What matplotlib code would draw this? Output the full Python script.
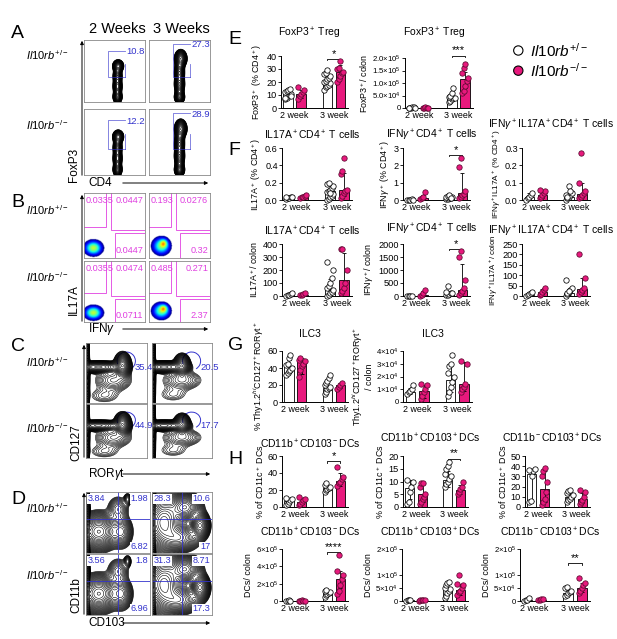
import numpy as np
import matplotlib
matplotlib.use("Agg")
import matplotlib.pyplot as plt
from matplotlib.patches import Rectangle, Arc, FancyArrowPatch

plt.rcParams['font.family'] = ['Liberation Sans', 'DejaVu Sans']
plt.rcParams['mathtext.fontset'] = 'custom'
plt.rcParams['mathtext.rm'] = 'Liberation Sans'
plt.rcParams['mathtext.it'] = 'Liberation Sans:italic'
plt.rcParams['mathtext.bf'] = 'Liberation Sans:bold'

W, H = 617, 639
PINK = '#E8197D'
BLUE = '#3333CC'
MAG = '#E040E0'

fig = plt.figure(figsize=(W / 100, H / 100), dpi=100)


def px(x0, y0, x1, y1):
    return [x0 / W, 1 - y1 / H, (x1 - x0) / W, (y1 - y0) / H]


def ftext(x, y, s, **kw):
    fig.text(x / W, 1 - y / H, s, **kw)


# ---------------- bar chart data ----------------
groups = ['2 week', '3 week']

e1_pts = [[7, 8, 9, 10, 11, 12, 13, 14, 15, 9, 8], [7, 9, 11, 12, 14, 16],
          [14, 16, 17, 18, 19, 20, 21, 22, 23, 25, 26, 27, 29], [20, 22, 25, 27, 28, 30, 31, 36]]
e1_bar = [10.5, 11, 20, 28]
e1_err = [[8, 8, 16, 23], [13, 14, 24, 33]]

e2_pts = [[1e3, 2e3, 3e3, 4e3, 2e3, 1e3], [1e3, 2e3, 3e3, 2e3, 1e3],
          [2.5e4, 3e4, 3.5e4, 4e4, 4e4, 4.5e4, 5e4, 6e4, 8e4], [6e4, 7e4, 9e4, 1.1e5, 1.2e5, 1.4e5, 1.6e5, 1.75e5]]
e2_bar = [2e3, 2e3, 4.2e4, 1.15e5]
e2_err = [[1e3, 1e3, 3e4, 8e4], [4e3, 3e3, 5.5e4, 1.45e5]]

f1_pts = [[0.01, 0.02, 0.02, 0.03, 0.03, 0.03], [0.02, 0.03, 0.04, 0.05, 0.06],
          [0, 0.01, 0.03, 0.05, 0.07, 0.09, 0.1, 0.12, 0.14, 0.16, 0.18, 0.2, 0.08],
          [0.02, 0.05, 0.08, 0.1, 0.12, 0.3, 0.33, 0.49]]
f1_bar = [0.02, 0.035, 0.1, 0.12]
f1_err = [[0.01, 0.02, 0.03, 0.05], [0.03, 0.05, 0.18, 0.31]]

f2_pts = [[0, 0.01, 0.02, 0.03, 0.02], [0.05, 0.1, 0.15, 0.45],
          [0.05, 0.08, 0.1, 0.12, 0.15, 0.2, 0.25, 0.3, 0.1], [0.1, 0.2, 0.3, 0.35, 0.5, 1.9, 2.4]]
f2_bar = [0.02, 0.1, 0.15, 0.4]
f2_err = [[0.01, 0.05, 0.1, 0.2], [0.03, 0.3, 0.25, 1.55]]

f3_pts = [[0.0, 0.01, 0.02, 0.03, 0.04], [0.01, 0.02, 0.03, 0.04, 0.05, 0.06],
          [0.0, 0.01, 0.02, 0.03, 0.04, 0.03, 0.02, 0.08, 0.05], [0.01, 0.02, 0.03, 0.04, 0.05, 0.1, 0.27]]
f3_bar = [0.015, 0.03, 0.02, 0.035]
f3_err = [[0.005, 0.01, 0.01, 0.02], [0.04, 0.05, 0.04, 0.1]]

f4_pts = [[0, 5, 10, 15, 20], [5, 10, 15, 20],
          [0, 10, 20, 30, 50, 60, 80, 100, 140, 200, 260], [20, 40, 60, 100, 200, 360, 365]]
f4_bar = [8, 10, 50, 120]
f4_err = [[3, 5, 20, 50], [15, 18, 130, 330]]

f5_pts = [[0, 5, 10, 15], [10, 40, 100, 250],
          [30, 50, 80, 100, 120, 150, 400], [50, 100, 200, 300, 600, 1500, 1750]]
f5_bar = [5, 50, 100, 250]
f5_err = [[2, 10, 60, 100], [12, 180, 150, 1250]]

f6_pts = [[0, 5, 10, 15, 20], [5, 10, 20, 30, 40],
          [0, 10, 20, 30, 40, 75, 15, 25], [10, 20, 30, 40, 85, 200]]
f6_bar = [5, 20, 15, 35]
f6_err = [[2, 8, 5, 15], [15, 35, 35, 85]]

g1_pts = [[32, 34, 36, 38, 40, 43, 45, 52, 55], [30, 38, 42, 45, 48, 50, 52],
          [10, 12, 15, 17, 18, 20, 22, 25, 28, 32], [15, 18, 20, 22]]
g1_bar = [42, 48, 17, 20]
g1_err = [[34, 33, 12, 16], [50, 52, 25, 22]]

g2_pts = [[6e3, 8e3, 9e3, 1e4, 1.3e4], [2e3, 5e3, 8e3, 1e4, 1.3e4, 1.4e4],
          [5e3, 8e3, 1.2e4, 1.6e4, 2e4, 2.3e4, 2.8e4, 3e4, 3.7e4], [8e3, 1e4, 1.2e4, 1.4e4, 3e4, 3.2e4]]
g2_bar = [8e3, 9e3, 1.7e4, 1.4e4]
g2_err = [[6e3, 3e3, 8e3, 9e3], [1.1e4, 1.3e4, 3e4, 3.1e4]]

h1_pts = [[2, 4, 6, 8, 10, 11], [2, 4, 6, 8, 10, 12],
          [18, 20, 21, 22, 24, 26, 28], [25, 28, 30, 33, 35, 47]]
h1_bar = [7, 6, 22, 31]
h1_err = [[4, 3, 19, 25], [10, 9, 26, 40]]

h2_pts = [[1, 2, 6, 8, 10, 10.5], [1, 2, 3, 4, 5, 8, 9.5, 9.5],
          [8, 9, 10, 11, 12, 13, 15, 16, 17.5], [5, 6, 7, 8, 10]]
h2_bar = [7.5, 5.2, 10.5, 6.5]
h2_err = [[3, 2, 8, 5], [10.5, 9, 14, 8.5]]

h3_pts = [[5, 6, 30, 35, 37, 36], [2, 5, 8, 15, 25, 30, 35, 38],
          [5, 7, 8, 10, 12, 14, 16, 17], [3, 5, 7, 10, 15, 17]]
h3_bar = [32, 18, 10, 8]
h3_err = [[6, 5, 7, 4], [37, 35, 15, 14]]

h4_pts = [[2e3, 4e3, 6e3, 3e3], [2e3, 4e3, 6e3, 5e3, 3e3],
          [5e4, 7e4, 8e4, 9e4, 1e5, 1.1e5, 1.3e5], [8e4, 1.2e5, 1.8e5, 2.5e5, 3e5, 3.5e5, 5.3e5]]
h4_bar = [4e3, 4e3, 9e4, 2.5e5]
h4_err = [[2e3, 2e3, 7e4, 1.5e5], [6e3, 6e3, 1.1e5, 3.5e5]]

h5_pts = [[1e3, 2e3, 3e3, 4e3], [1e3, 2e3, 3e3, 4e3, 2e3],
          [1e4, 2e4, 3e4, 4e4, 4.5e4, 5e4, 6e4, 7e4, 7.5e4], [2.5e4, 3.5e4, 4e4, 5e4, 6e4, 6.5e4, 1e5]]
h5_bar = [2e3, 2e3, 4.2e4, 4.2e4]
h5_err = [[1e3, 1e3, 2.5e4, 2.5e4], [3e3, 3e3, 6.5e4, 6.5e4]]

h6_pts = [[0, 2e3, 5e3, 1e4], [3e3, 5e3, 7e3, 6e3],
          [2e4, 2.5e4, 3e4, 3.5e4, 4e4, 5e4, 5.5e4], [3e4, 4e4, 5e4, 6e4, 7e4, 9e4]]
h6_bar = [4e3, 5e3, 3e4, 5e4]
h6_err = [[1e3, 3e3, 2.2e4, 3.5e4], [8e3, 7e3, 4.5e4, 7e4]]


def sci(m, e):
    return '%s×10$^{%d}$' % (m, e)


def bar_panel(rect, pts, bar, err, yt, ytl, title, ylab, title_y, sig=None, ylab_size=6.4):
    ax = fig.add_axes(px(*rect))
    xs = [0, 1, 3, 4]
    face = ['white', PINK, 'white', PINK]
    for i in range(4):
        ax.bar(xs[i], bar[i], width=0.72, color=face[i], edgecolor='black', lw=0.6, zorder=1)
        ax.errorbar(xs[i], bar[i], yerr=[[bar[i] - err[0][i]], [err[1][i] - bar[i]]],
                    color='black', lw=0.6, capsize=1.5, capthick=0.6, zorder=2)
        n = len(pts[i])
        off = ((np.arange(n) % 5) - 2) * 0.11
        ax.scatter(xs[i] + off, pts[i], s=15, facecolor=face[i],
                   edgecolor='black' if i % 2 == 0 else '#5a0a30', lw=0.55, zorder=3, clip_on=False)
    ax.set_xlim(-0.55, 4.6)
    ax.set_ylim(yt[0], yt[-1])
    ax.set_yticks(yt)
    ax.set_yticklabels(ytl)
    ax.set_xticks([0.5, 3.5])
    ax.set_xticklabels(groups)
    ax.tick_params(axis='x', length=0, labelsize=6.4, pad=2)
    ax.tick_params(axis='y', length=2, width=0.6, labelsize=6.6 if len(ytl[-1]) < 6 else 5.6, pad=1)
    for s in ['top', 'right']:
        ax.spines[s].set_visible(False)
    for s in ['left', 'bottom']:
        ax.spines[s].set_linewidth(0.7)
    ftext((rect[0] + rect[2]) / 2 - 5, title_y, title, fontsize=7.5, ha='center', va='center')
    ax.set_ylabel(ylab, fontsize=ylab_size, linespacing=1.05, labelpad=1.5)
    if sig:
        y, stars = sig
        dy = (yt[-1] - yt[0]) * 0.03
        ax.plot([3, 3, 4, 4], [y - dy, y, y, y - dy], color='black', lw=0.6, clip_on=False)
        ax.text(3.5, y, stars, ha='center', va='bottom', fontsize=8, clip_on=False)
    return ax


# E
bar_panel((281, 56, 348, 108), e1_pts, e1_bar, e1_err, [0, 10, 20, 30, 40], ['0', '10', '20', '30', '40'],
          r'FoxP3$^+$ Treg', r'FoxP3$^+$ (% CD4$^+$)', 33, sig=(38, '*'))
bar_panel((405, 58, 473, 108), e2_pts, e2_bar, e2_err, [0, 5e4, 1e5, 1.5e5, 2e5],
          ['0', sci('5.0', 4), sci('1.0', 5), sci('1.5', 5), sci('2.0', 5)],
          r'FoxP3$^+$ Treg', r'FoxP3$^+$/ colon', 33, sig=(2.1e5, '***'))
# F
bar_panel((282, 148, 352, 200), f1_pts, f1_bar, f1_err, [0, 0.2, 0.4, 0.6], ['0.0', '0.2', '0.4', '0.6'],
          r'IL17A$^+$CD4$^+$ T cells', r'IL17A$^+$ (% CD4$^+$)', 135)
bar_panel((403, 148, 470, 200), f2_pts, f2_bar, f2_err, [0, 1, 2, 3], ['0', '1', '2', '3'],
          r'IFN$\gamma^+$CD4$^+$ T cells', r'IFN$\gamma^+$ (% CD4$^+$)', 135, sig=(2.6, '*'))
bar_panel((522, 148, 590, 200), f3_pts, f3_bar, f3_err, [0, 0.1, 0.2, 0.3], ['0.0', '0.1', '0.2', '0.3'],
          r'IFN$\gamma^+$IL17A$^+$CD4$^+$ T cells', r'IFN$\gamma^+$IL17A$^+$ (% CD4$^+$)', 125,
          ylab_size=5.9)
bar_panel((282, 244, 352, 296), f4_pts, f4_bar, f4_err, [0, 100, 200, 300, 400], ['0', '100', '200', '300', '400'],
          r'IL17A$^+$CD4$^+$ T cells', r'IL17A$^+$/ colon', 231)
bar_panel((403, 244, 470, 296), f5_pts, f5_bar, f5_err, [0, 500, 1000, 1500, 2000],
          ['0', '500', '1000', '1500', '2000'],
          r'IFN$\gamma^+$CD4$^+$ T cells', r'IFN$\gamma^+$/ colon', 229, sig=(1820, '*'))
bar_panel((522, 244, 590, 296), f6_pts, f6_bar, f6_err, [0, 50, 100, 150, 200, 250],
          ['0', '50', '100', '150', '200', '250'],
          r'IFN$\gamma^+$IL17A$^+$CD4$^+$ T cells', r'IFN$\gamma^+$IL17A$^+$/ colon', 231, ylab_size=5.6)
# G
bar_panel((282, 351, 348, 402), g1_pts, g1_bar, g1_err, [0, 20, 40, 60], ['0', '20', '40', '60'],
          'ILC3', r'% Thy1.2$^{hi}$CD127$^+$ROR$\gamma$t$^+$', 334)
bar_panel((403, 351, 472, 402), g2_pts, g2_bar, g2_err, [0, 1e4, 2e4, 3e4, 4e4],
          ['0', sci('1', 4), sci('2', 4), sci('3', 4), sci('4', 4)],
          'ILC3', 'Thy1.2$^{hi}$CD127$^+$ROR$\\gamma$t$^+$\n/ colon', 334)
# H
bar_panel((282, 456, 348, 507), h1_pts, h1_bar, h1_err, [0, 20, 40, 60], ['0', '20', '40', '60'],
          r'CD11b$^+$CD103$^-$DCs', r'% of CD11c$^+$ DCs', 444, sig=(54, '*'))
bar_panel((403, 456, 468, 507), h2_pts, h2_bar, h2_err, [0, 5, 10, 15, 20], ['0', '5', '10', '15', '20'],
          r'CD11b$^+$CD103$^+$DCs', r'% of CD11c$^+$ DCs', 438, sig=(19, '**'))
bar_panel((525, 456, 590, 507), h3_pts, h3_bar, h3_err, [0, 10, 20, 30, 40, 50],
          ['0', '10', '20', '30', '40', '50'],
          r'CD11b$^-$CD103$^+$DCs', r'% of CD11c$^+$ DCs', 438)
bar_panel((282, 549, 348, 601), h4_pts, h4_bar, h4_err, [0, 2e5, 4e5, 6e5],
          ['0', sci('2', 5), sci('4', 5), sci('6', 5)],
          r'CD11b$^+$CD103$^-$DCs', 'DCs/ colon', 532, sig=(5.6e5, '****'))
bar_panel((402, 549, 468, 601), h5_pts, h5_bar, h5_err, [0, 5e4, 1e5, 2e5],
          ['0', sci('5', 4), sci('1', 5), sci('2', 5)],
          r'CD11b$^+$CD103$^+$DCs', 'DCs/ colon', 532)
bar_panel((520, 549, 590, 601), h6_pts, h6_bar, h6_err, [0, 5e4, 1e5, 2e5],
          ['0', sci('5', 4), sci('1', 5), sci('2', 5)],
          r'CD11b$^-$CD103$^+$DCs', 'DCs/ colon', 532, sig=(1.45e5, '**'))

# legend
lax = fig.add_axes(px(505, 40, 600, 82))
lax.set_xlim(0, 1)
lax.set_ylim(0, 1)
lax.axis('off')
lax.scatter([0.14, 0.14], [0.75, 0.27], s=45, facecolor=['white', PINK], edgecolor='black', lw=0.8)
lax.text(0.26, 0.75, r'$\mathit{Il10rb}^{+/-}$', fontsize=11, va='center')
lax.text(0.26, 0.27, r'$\mathit{Il10rb}^{-/-}$', fontsize=11, va='center')

# ---------------- flow cytometry panels ----------------
grid = np.linspace(0, 1, 140)
GX, GY = np.meshgrid(grid, grid)


def density(clusters):
    d = np.zeros_like(GX)
    for cx, cy, sx, sy, w in clusters:
        d += w * np.exp(-((GX - cx) ** 2 / (2 * sx ** 2) + (GY - cy) ** 2 / (2 * sy ** 2)))
    return d


def flow_box(rect):
    ax = fig.add_axes(px(*rect))
    ax.set_xlim(0, 1)
    ax.set_ylim(0, 1)
    ax.set_xticks([])
    ax.set_yticks([])
    for s in ax.spines.values():
        s.set_color('#888888')
        s.set_linewidth(0.6)
    return ax


def contour_plot(ax, clusters, lo=0.04, n=22):
    d = density(clusters)
    lv = d.max() * np.geomspace(lo, 0.97, n)
    ax.contour(GX, GY, d, levels=lv, colors='black', linewidths=0.4)


# A : FoxP3 vs CD4
a_cells = [(0.55, 0.08, 0.035, 0.05, 1.0), (0.55, 0.25, 0.035, 0.07, 1.0),
           (0.55, 0.42, 0.035, 0.06, 0.9), (0.56, 0.58, 0.045, 0.05, 0.8)]
a_cells3 = [(0.5, 0.08, 0.04, 0.05, 1.0), (0.5, 0.28, 0.04, 0.08, 1.0),
            (0.5, 0.48, 0.04, 0.08, 0.9), (0.52, 0.7, 0.05, 0.07, 0.9)]
a_vals = [['10.8', '27.3'], ['12.2', '28.9']]
a_rows = [(40, 102), (109, 175)]
a_cols = [(84, 145), (149, 210)]
for r, (y0, y1) in enumerate(a_rows):
    for c, (x0, x1) in enumerate(a_cols):
        ax = flow_box((x0, y0, x1, y1))
        contour_plot(ax, a_cells if c == 0 else a_cells3, lo=0.08, n=26)
        top = 0.83 if c == 0 else 0.94
        ax.plot([0.67, 0.39, 0.39, 0.67], [top, top, 0.4, 0.4], color=BLUE, lw=0.6, alpha=0.7)
        ax.plot([0.67, 0.67], [0.4, 0.62], color=BLUE, lw=0.6, alpha=0.7)
        ax.text(0.7, top - 0.02, a_vals[r][c], color=BLUE, fontsize=6.8, va='center')

# B : IL17A vs IFNg
b_cells = [[(0.15, 0.15, 0.09, 0.07, 1.0)], [(0.2, 0.18, 0.1, 0.09, 1.0), (0.24, 0.22, 0.04, 0.04, 0.6)]]
b_vmax = [1.6, 1.25]
b_vals = [[['0.0335', '0.0447', '0.0447'], ['0.193', '0.0276', '0.32']],
          [['0.0355', '0.0474', '0.0711'], ['0.485', '0.271', '2.37']]]
b_rows = [(193, 258), (261, 322)]
cmap = plt.get_cmap('jet').copy()
cmap.set_under('white')
for r, (y0, y1) in enumerate(b_rows):
    for c, (x0, x1) in enumerate(a_cols):
        ax = flow_box((x0, y0, x1, y1))
        d = density(b_cells[c])
        ax.imshow(d / d.max(), origin='lower', extent=[0, 1, 0, 1], cmap=cmap, vmin=0.15, vmax=b_vmax[c],
                  aspect='auto', interpolation='bilinear')
        ax.add_patch(Rectangle((-0.01, 0.48), 0.37, 0.53, fill=False, ec=MAG, lw=0.6))
        ax.add_patch(Rectangle((0.45, 0.43), 0.56, 0.58, fill=False, ec=MAG, lw=0.6))
        ax.add_patch(Rectangle((0.5, -0.01), 0.51, 0.39, fill=False, ec=MAG, lw=0.6))
        v = b_vals[r][c]
        ax.text(0.02, 0.95, v[0], color=MAG, fontsize=6.6, va='top')
        ax.text(0.97, 0.95, v[1], color=MAG, fontsize=6.6, va='top', ha='right')
        ax.text(0.97, 0.04, v[2], color=MAG, fontsize=6.6, va='bottom', ha='right')

# C : CD127 vs RORgt
c_cells = [(0.2, 0.6, 0.2, 0.045, 0.7), (0.03, 0.5, 0.015, 0.3, 0.45), (0.6, 0.63, 0.06, 0.09, 1.0),
           (0.45, 0.38, 0.16, 0.1, 0.18), (0.3, 0.12, 0.16, 0.08, 0.07)]
c_cells3 = [(0.2, 0.6, 0.18, 0.045, 0.7), (0.03, 0.5, 0.015, 0.3, 0.45), (0.5, 0.63, 0.06, 0.08, 0.9),
            (0.5, 0.38, 0.18, 0.09, 0.15), (0.35, 0.14, 0.16, 0.08, 0.06)]
c_vals = [['35.4', '20.5'], ['44.9', '17.7']]
c_rows = [(343, 403), (404, 458)]
c_cols = [(86, 147), (152, 212)]
for r, (y0, y1) in enumerate(c_rows):
    for c, (x0, x1) in enumerate(c_cols):
        ax = flow_box((x0, y0, x1, y1))
        contour_plot(ax, c_cells if c == 0 else c_cells3, lo=0.03, n=24)
        ax.add_patch(Arc((0.66, 0.7), 0.3, 0.3, theta1=-60, theta2=200, color=BLUE, lw=0.7))
        ax.text(0.8, 0.6, c_vals[r][c], color=BLUE, fontsize=6.8, va='center')

# D : CD11b vs CD103
d_cells = [(0.2, 0.35, 0.13, 0.13, 1.0), (0.03, 0.4, 0.015, 0.3, 0.6), (0.55, 0.35, 0.08, 0.12, 0.35),
           (0.5, 0.72, 0.08, 0.1, 0.15), (0.65, 0.88, 0.03, 0.05, 0.12)]
d_cells3 = [(0.2, 0.5, 0.14, 0.2, 1.0), (0.03, 0.5, 0.015, 0.35, 0.6), (0.55, 0.75, 0.12, 0.1, 0.9),
            (0.8, 0.45, 0.07, 0.1, 0.8), (0.45, 0.25, 0.15, 0.1, 0.6)]
d_vals = [[['3.84', '1.98', '6.82'], ['28.3', '10.6', '17']],
          [['3.56', '1.8', '6.96'], ['31.3', '8.71', '17.3']]]
d_rows = [(492, 553), (554, 615)]
d_cols = [(86, 150), (152, 212)]
for r, (y0, y1) in enumerate(d_rows):
    for c, (x0, x1) in enumerate(d_cols):
        ax = flow_box((x0, y0, x1, y1))
        contour_plot(ax, d_cells if c == 0 else d_cells3, lo=0.02, n=26)
        ax.axvline(0.5, color=BLUE, lw=0.6)
        ax.axhline(0.55, color=BLUE, lw=0.6)
        v = d_vals[r][c]
        ax.text(0.03, 0.96, v[0], color=BLUE, fontsize=6.6, va='top',
                bbox=dict(fc='white', ec='none', pad=0.3))
        ax.text(0.97, 0.96, v[1], color=BLUE, fontsize=6.6, va='top', ha='right',
                bbox=dict(fc='white', ec='none', pad=0.3))
        ax.text(0.97, 0.03, v[2], color=BLUE, fontsize=6.6, va='bottom', ha='right',
                bbox=dict(fc='white', ec='none', pad=0.3))

# axis arrows and labels for flow panels
arrows = [(82, 38, 178, 120, 211, 183, 'FoxP3', 'CD4', 165),
          (82, 192, 324, 120, 211, 329, 'IL17A', r'IFN$\gamma$', 300),
          (84, 342, 460, 120, 213, 474, 'CD127', r'ROR$\gamma$t', 443),
          (84, 490, 617, 120, 213, 623, 'CD11b', 'CD103', 595)]
for xa, ytop, ybot, xs, xe, yl, ylab, xlab, ylpos in arrows:
    fig.add_artist(FancyArrowPatch((xa / W, 1 - ybot / H), (xa / W, 1 - ytop / H),
                                   arrowstyle='-|>', mutation_scale=5, lw=0.7,
                                   color='black', transform=fig.transFigure))
    fig.add_artist(FancyArrowPatch((xs / W, 1 - yl / H), (xe / W, 1 - yl / H),
                                   arrowstyle='-|>', mutation_scale=5, lw=0.7,
                                   color='black', transform=fig.transFigure))
    ftext(xa - 8, ylpos, ylab, rotation=90, fontsize=8.5, ha='center', va='center')
    ftext(88, yl, xlab, fontsize=8.5, ha='left', va='center')

ftext(117, 29, '2 Weeks', fontsize=10.5, ha='center', va='center')
ftext(181, 29, '3 Weeks', fontsize=10.5, ha='center', va='center')

row_labels = [(55, 125), (210, 277), (362, 428), (508, 575)]
for ya, yb in row_labels:
    ftext(69, ya, r'$\mathit{Il10rb}^{+/-}$', fontsize=8, ha='right', va='center')
    ftext(69, yb, r'$\mathit{Il10rb}^{-/-}$', fontsize=8, ha='right', va='center')

for letter, x, y in [('A', 11, 33), ('B', 11, 203), ('C', 11, 347), ('D', 11, 500),
                     ('E', 228, 40), ('F', 228, 150), ('G', 228, 345), ('H', 228, 459)]:
    ftext(x, y, letter, fontsize=14, va='center', ha='left')

fig.savefig('out.png', dpi=100)
